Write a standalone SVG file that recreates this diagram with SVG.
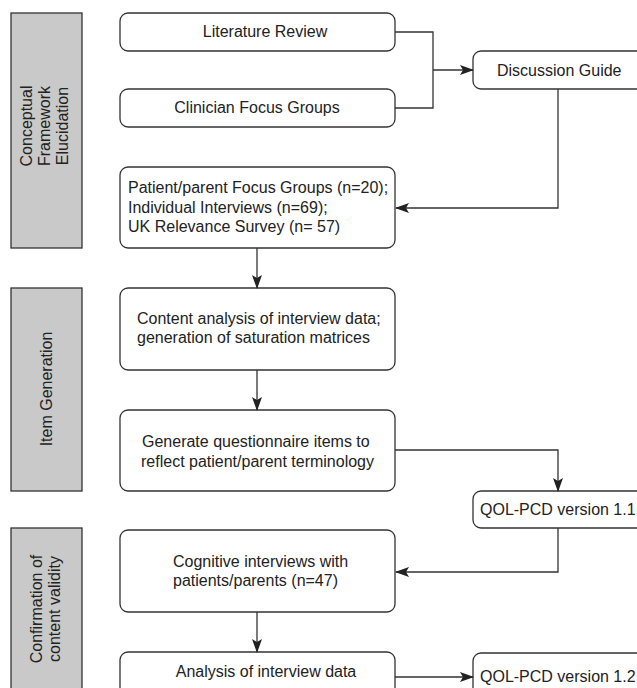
<svg xmlns="http://www.w3.org/2000/svg" width="637" height="688" viewBox="0 0 637 688">
<style>
  .bar{fill:#c9c9c9;stroke:#333;stroke-width:1.3}
  .box{fill:#fff;stroke:#333;stroke-width:1.3}
  .t{font-family:"Liberation Sans",Arial,sans-serif;font-size:16px;fill:#222}
  .c{text-anchor:middle}
  .ln{fill:none;stroke:#333;stroke-width:1.3}
</style>
<defs>
  <marker id="ah" viewBox="0 0 14 10" refX="13" refY="5" markerWidth="14" markerHeight="10" markerUnits="userSpaceOnUse" orient="auto">
    <path d="M0,0 L14,5 L0,10 L3,5 Z" fill="#222"/>
  </marker>
</defs>
<rect width="637" height="688" fill="#fff"/>

<g id="phase1">
  <rect class="bar" x="11" y="13" width="71" height="235"/>
  <text class="t c" transform="translate(32,126) rotate(-90)">Conceptual</text>
  <text class="t c" transform="translate(50,126) rotate(-90)">Framework</text>
  <text class="t c" transform="translate(68,126) rotate(-90)">Elucidation</text>
</g>
<g id="phase2">
  <rect class="bar" x="11" y="288" width="71" height="203"/>
  <text class="t c" transform="translate(52,389) rotate(-90)">Item Generation</text>
</g>
<g id="phase3">
  <rect class="bar" x="11" y="528" width="71" height="170"/>
  <text class="t c" transform="translate(42,609) rotate(-90)">Confirmation of</text>
  <text class="t c" transform="translate(60,609) rotate(-90)">content validity</text>
</g>

<g id="lit">
  <rect class="box" x="120" y="13" width="275" height="38" rx="8"/>
  <text class="t c" x="265" y="37">Literature Review</text>
</g>
<g id="clin">
  <rect class="box" x="120" y="89" width="275" height="38" rx="8"/>
  <text class="t c" x="257" y="113">Clinician Focus Groups</text>
</g>
<g id="guide">
  <rect class="box" x="473" y="51" width="180" height="38" rx="8"/>
  <text class="t" x="497" y="76">Discussion Guide</text>
</g>
<g id="patient">
  <rect class="box" x="120" y="167" width="275" height="81" rx="8"/>
  <text class="t" x="128" y="193">Patient/parent Focus Groups (n=20);</text>
  <text class="t" x="128" y="213">Individual Interviews (n=69);</text>
  <text class="t" x="128" y="232">UK Relevance Survey (n= 57)</text>
</g>
<g id="content">
  <rect class="box" x="120" y="288" width="275" height="82" rx="8"/>
  <text class="t" x="137" y="324">Content analysis of interview data;</text>
  <text class="t" x="137" y="343">generation of saturation matrices</text>
</g>
<g id="generate">
  <rect class="box" x="120" y="410" width="275" height="81" rx="8"/>
  <text class="t" x="142" y="447">Generate questionnaire items to</text>
  <text class="t" x="141" y="467">reflect patient/parent terminology</text>
</g>
<g id="v11">
  <rect class="box" x="473" y="491" width="180" height="37" rx="8"/>
  <text class="t" x="480" y="515">QOL-PCD version 1.1</text>
</g>
<g id="cognitive">
  <rect class="box" x="120" y="530" width="275" height="82" rx="8"/>
  <text class="t" x="173" y="567">Cognitive interviews with</text>
  <text class="t" x="173" y="586">patients/parents (n=47)</text>
</g>
<g id="analysis">
  <rect class="box" x="120" y="652" width="275" height="50" rx="8"/>
  <text class="t c" x="266" y="677">Analysis of interview data</text>
</g>
<g id="v12">
  <rect class="box" x="473" y="653" width="180" height="50" rx="8"/>
  <text class="t" x="480" y="682">QOL-PCD version 1.2</text>
</g>

<g id="connectors">
  <polyline class="ln" points="395,32 433,32 433,108 395,108"/>
  <line class="ln" x1="433" y1="70" x2="473" y2="70" marker-end="url(#ah)"/>
  <polyline class="ln" points="558,89 558,208 396,208" marker-end="url(#ah)"/>
  <line class="ln" x1="257" y1="248" x2="257" y2="288" marker-end="url(#ah)"/>
  <line class="ln" x1="257" y1="370" x2="257" y2="410" marker-end="url(#ah)"/>
  <polyline class="ln" points="395,450 558,450 558,491" marker-end="url(#ah)"/>
  <polyline class="ln" points="558,528 558,572 396,572" marker-end="url(#ah)"/>
  <line class="ln" x1="257" y1="612" x2="257" y2="652" marker-end="url(#ah)"/>
  <line class="ln" x1="395" y1="677" x2="473" y2="677" marker-end="url(#ah)"/>
</g>
</svg>
